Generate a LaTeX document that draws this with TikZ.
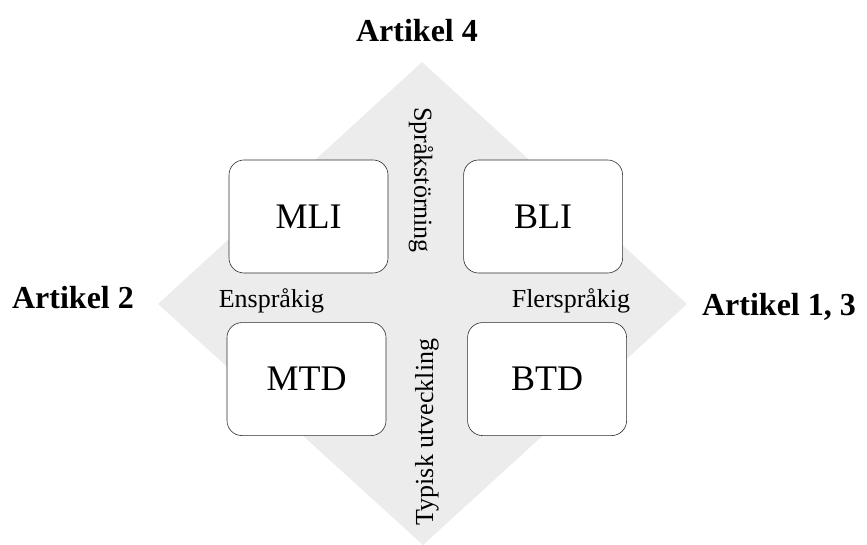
\documentclass[tikz,border=0pt]{standalone}
\usepackage{fontspec}
\setmainfont{Liberation Serif}
\usetikzlibrary{positioning}
\definecolor{diamondgray}{RGB}{236,236,236}
\definecolor{framegray}{RGB}{45,45,45}

\begin{document}
\begin{tikzpicture}[x=1pt,y=1pt,semithick,
                    group/.style={draw=framegray,fill=white,rounded corners=15pt,
                                  minimum width=159pt,minimum height=113pt,
                                  font=\fontsize{36}{40}\selectfont},
                    axislabel/.style={font=\fontsize{26}{30}\selectfont,inner sep=0pt},
                    article/.style={font=\fontsize{32}{36}\selectfont\bfseries,
                                    inner sep=0pt,anchor=base}]
      \useasboundingbox (0,0) rectangle (867,545);
      \fill[diamondgray] (422,483) -- (687,241) -- (423,0) -- (158,241) -- cycle;
      \node[group](MLI) at (308.5,328.5)             {MLI};
      \node[group](BLI) [right=75pt of MLI]          {BLI};
      \node[group](MTD) [below=49pt of MLI,xshift=-2pt] {MTD};
      \node[group](BTD) [below=49pt of BLI,xshift=4pt]  {BTD};
      \node[axislabel,rotate=-90](sprak) at (421,365) {Språkstörning};
      \node[axislabel,rotate=90] (typisk) at (427,113) {Typisk utveckling};
      \node[axislabel,anchor=base](ensprakig) at (271.5,237) {Enspråkig};
      \node[axislabel,anchor=base](flersprakig) at (571,237) {Flerspråkig};
      \node[article](art2)  at (73,236)  {Artikel 2};
      \node[article](art13) at (779,229) {Artikel 1, 3};
      \node[article](art4)  at (417,503) {Artikel 4};
 \end{tikzpicture}
\end{document}
